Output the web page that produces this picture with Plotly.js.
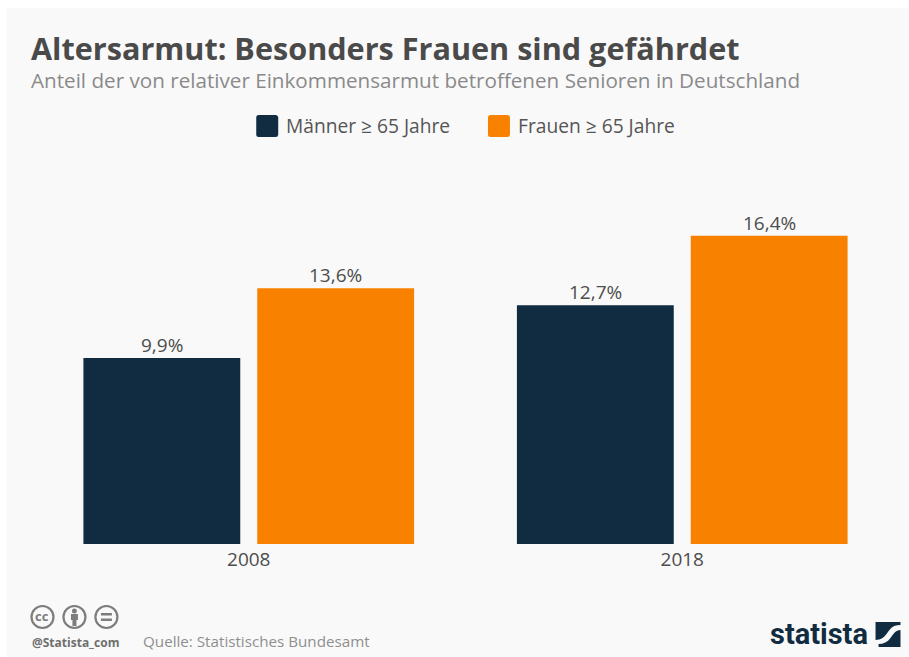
<!DOCTYPE html>
<html><head><meta charset="utf-8">
<script src="https://cdn.plot.ly/plotly-3.0.1.min.js"></script>
<style>html,body{margin:0;padding:0;background:#fff}</style></head>
<body><div id="chart" style="width:909px;height:657px"></div>
<script>
const categories = ["2008", "2018"];
const seriesNames = ["Männer ≥ 65 Jahre", "Frauen ≥ 65 Jahre"];
const menValues = [9.9, 12.7];
const womenValues = [13.6, 16.4];
const menLabels = ["9,9%", "12,7%"];
const womenLabels = ["13,6%", "16,4%"];
const navy = "#112c41", orange = "#f98100";
const W = 909, H = 657;
const M = {l: 31.5, r: 9.5, t: 168, b: 113, pad: 0};
const PW = W - M.l - M.r, PH = H - M.t - M.b;
const px = v => (v - M.l) / PW, py = v => (H - M.b - v) / PH;
const font = "'Open Sans', sans-serif";
const barShift = 87;

function rr(x0, y0, x1, y1, r) {
  return `M${px(x0 + r)},${py(y0)}L${px(x1 - r)},${py(y0)}Q${px(x1)},${py(y0)} ${px(x1)},${py(y0 + r)}` +
    `L${px(x1)},${py(y1 - r)}Q${px(x1)},${py(y1)} ${px(x1 - r)},${py(y1)}L${px(x0 + r)},${py(y1)}` +
    `Q${px(x0)},${py(y1)} ${px(x0)},${py(y1 - r)}L${px(x0)},${py(y0 + r)}Q${px(x0)},${py(y0)} ${px(x0 + r)},${py(y0)}Z`;
}
const P = (x, y) => `${px(x)},${py(y)}`;
const shape = o => Object.assign({xref: "paper", yref: "paper", layer: "below"}, o);
const circle = (cx, cy, r) => shape({type: "circle", x0: px(cx - r), x1: px(cx + r), y0: py(cy + r), y1: py(cy - r),
  line: {color: "#7d7d7d", width: 2.2}, fillcolor: "rgba(0,0,0,0)", layer: "above"});
const note = (text, x, y, size, color, anchor, weight, family) => ({
  text, x: px(x), y: py(y), xref: "paper", yref: "paper", showarrow: false, xanchor: anchor || "left", yanchor: "middle",
  font: {size, color, family: family || font, weight: weight || 400}, borderpad: 0
});
const valueNote = (catIndex, value, label, shift) => ({
  text: label, x: catIndex, y: value, xref: "x", yref: "y", showarrow: false, xanchor: "center", yanchor: "middle",
  xshift: shift, yshift: 13, borderpad: 0, font: {family: font, size: 19, color: "#4d4d4d"}
});

const traces = [
  {type: "bar", name: seriesNames[0], x: categories, y: menValues, marker: {color: navy}},
  {type: "bar", name: seriesNames[1], x: categories, y: womenValues, marker: {color: orange}}
].map(t => Object.assign(t, {hoverinfo: "skip"}));

const layout = {
  width: W, height: H, showlegend: false, paper_bgcolor: "#ffffff", plot_bgcolor: "rgba(0,0,0,0)",
  margin: M,
  barmode: "group", bargap: 0.198, bargroupgap: 0.0977,
  font: {family: font},
  xaxis: {type: "category", range: [-0.5, 1.5], showgrid: false, zeroline: false, showline: false, ticks: "",
    tickfont: {family: font, size: 19, color: "#4d4d4d"}, ticklabelstandoff: 2},
  yaxis: {range: [0, 20], visible: false},
  shapes: [
    shape({type: "rect", x0: px(6), x1: px(909), y0: py(657), y1: py(8), fillcolor: "#f9f9f9", line: {width: 0}}),
    shape({type: "path", path: rr(256, 115, 278, 137, 2.5), fillcolor: navy, line: {width: 0}}),
    shape({type: "path", path: rr(488, 115, 510, 137, 2.5), fillcolor: orange, line: {width: 0}}),
    circle(42, 617, 11), circle(74, 617, 11), circle(106, 617, 11),
    shape({type: "circle", x0: px(71.5), x1: px(76.5), y0: py(613.5), y1: py(608.5), fillcolor: "#7d7d7d", line: {width: 0}, layer: "above"}),
    shape({type: "path", path: `M${P(70.5,614)}L${P(77.5,614)}L${P(77.5,620)}L${P(76,620)}L${P(76,626)}L${P(72,626)}L${P(72,620)}L${P(70.5,620)}Z`, fillcolor: "#7d7d7d", line: {width: 0}, layer: "above"}),
    shape({type: "rect", x0: px(100.5), x1: px(111.5), y0: py(615.5), y1: py(613), fillcolor: "#7d7d7d", line: {width: 0}, layer: "above"}),
    shape({type: "rect", x0: px(100.5), x1: px(111.5), y0: py(621), y1: py(618.5), fillcolor: "#7d7d7d", line: {width: 0}, layer: "above"}),
    shape({type: "path", path: `M${P(876,622)}L${P(901,622)}L${P(901,625)}C${P(892,625)} ${P(890,630)} ${P(887,634)}C${P(885,637)} ${P(881,640)} ${P(876,640)}Z`, fillcolor: navy, line: {width: 0}, layer: "above"}),
    shape({type: "path", path: `M${P(879,647)}L${P(901,647)}L${P(901,630)}C${P(896,630)} ${P(894,634)} ${P(891,638)}C${P(888,642)} ${P(884,644)} ${P(879,644)}Z`, fillcolor: navy, line: {width: 0}, layer: "above"})
  ],
  annotations: [
    note("Altersarmut: Besonders Frauen sind gefährdet", 29, 48, 30.6, "#4a4a4a", "left", 700),
    note("Anteil der von relativer Einkommensarmut betroffenen Senioren in Deutschland", 29, 80, 20.65, "#8a8a8a"),
    note(seriesNames[0], 285, 125, 19.2, "#555555"),
    note(seriesNames[1], 517, 125, 19.2, "#555555"),
    note("cc", 42, 616, 13, "#7d7d7d", "center", 700),
    note("@Statista_com", 30, 642, 12, "#6f6f6f", "left", 700),
    note("Quelle: Statistisches Bundesamt", 142, 641, 15.2, "#8f8f8f"),
    note("statista", 869, 634, 29, navy, "right", 700, "Roboto, sans-serif"),
    ...categories.map((c, i) => valueNote(i, menValues[i], menLabels[i], -barShift)),
    ...categories.map((c, i) => valueNote(i, womenValues[i], womenLabels[i], barShift))
  ]
};
Plotly.newPlot("chart", traces, layout, {staticPlot: true, displayModeBar: false});
</script></body></html>
